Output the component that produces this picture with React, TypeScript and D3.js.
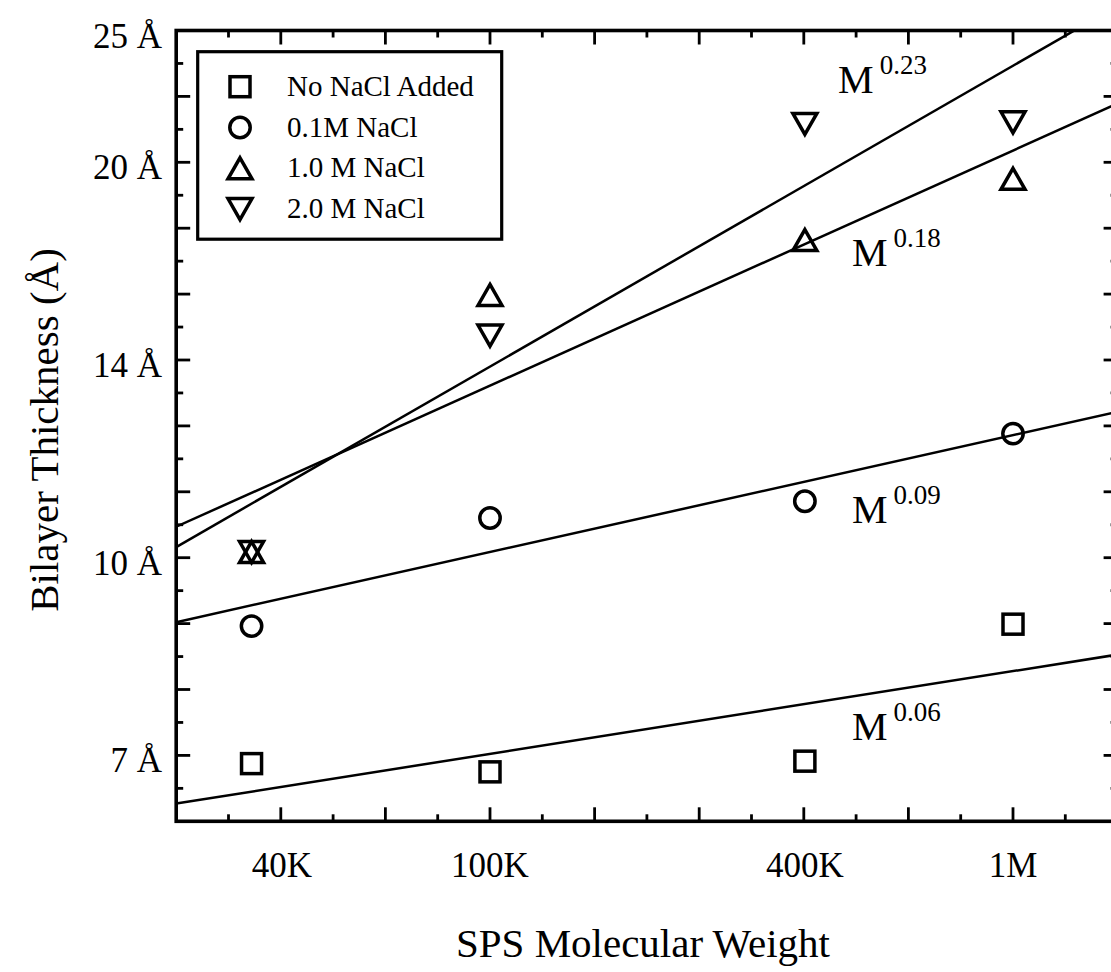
import React from "react";
import * as d3 from "d3";

// ---- data ----
const molecularWeights = [35000, 100000, 400000, 1000000];
const seriesNames = ["No NaCl Added", "0.1M NaCl", "1.0 M NaCl", "2.0 M NaCl"];
const seriesShapes = ["square", "circle", "triangleUp", "triangleDown"];
const noNaCl = [6.97, 6.87, 7.0, 8.9];
const nacl01 = [8.87, 10.72, 11.04, 12.43];
const nacl10 = [10.1, 15.85, 17.45, 19.43];
const nacl20 = [10.1, 14.76, 21.39, 21.45];
const seriesValues = [noNaCl, nacl01, nacl10, nacl20];

// power-law fits: thickness = fitAt100K * (M / 1e5) ^ exponent
const fitExponents = [0.063, 0.089, 0.179, 0.229];
const fitAt100K = [7.09, 10.1, 13.52, 13.98];
const fitLabels = ["0.06", "0.09", "0.18", "0.23"];
const fitLabelM = [492000, 492000, 492000, 463000];
const fitLabelValue = [7.263, 10.63, 16.68, 22.58];

const xTickLabels = [
  { v: 40000, t: "40K" },
  { v: 100000, t: "100K" },
  { v: 400000, t: "400K" },
  { v: 1000000, t: "1M" },
];
const yTickLabels = [
  { k: -6, t: "7 Å" },
  { k: 0, t: "10 Å" },
  { k: 6, t: "14 Å" },
  { k: 12, t: "20 Å" },
  { k: 16, t: "25 Å" },
];
const xTitle = "SPS Molecular Weight";
const yTitle = "Bilayer Thickness (Å)";

const FONT = "Liberation Serif, Times New Roman, Times, serif";

function Marker({ shape, cx, cy }: { shape: string; cx: number; cy: number }) {
  const sw = 3.5;
  if (shape === "square") {
    const s = 20;
    return <rect x={cx - s / 2} y={cy - s / 2} width={s} height={s} fill="none" stroke="#000" strokeWidth={sw} />;
  }
  if (shape === "circle") {
    return <circle cx={cx} cy={cy} r={10.2} fill="none" stroke="#000" strokeWidth={sw} />;
  }
  const w = 24;
  const h = 21;
  const pts =
    shape === "triangleUp"
      ? [[cx, cy - h / 2], [cx + w / 2, cy + h / 2], [cx - w / 2, cy + h / 2]]
      : [[cx, cy + h / 2], [cx + w / 2, cy - h / 2], [cx - w / 2, cy - h / 2]];
  return (
    <polygon
      points={pts.map((p) => p.join(",")).join(" ")}
      fill="none"
      stroke="#000"
      strokeWidth={sw}
      strokeLinejoin="miter"
    />
  );
}

export default function App() {
  const W = 1111;
  const H = 972;
  const left = 176.2;
  const right = 1117.6;
  const top = 30.5;
  const bottom = 821.3;

  const x = d3.scaleLog().domain([Math.pow(10, 4.4), Math.pow(10, 6.2)]).range([left, right]);
  const yk = (k: number) => 10 * Math.pow(2, k / 12);
  const y = d3.scaleLog().base(2).domain([yk(-8), yk(16)]).range([bottom, top]);

  // x ticks every 0.1 decade; major at even tenths
  const xTicks = d3.range(45, 62).map((i) => ({ v: Math.pow(10, i / 10), major: i % 2 === 0 }));
  // y ticks every 1/12 octave; long at even k
  const yTicks = d3.range(-7, 16).map((k) => ({ v: yk(k), major: k % 2 === 0 }));

  const fitPath = (i: number) => {
    const ms = [x.domain()[0], x.domain()[1]];
    const gen = d3
      .line<number>()
      .x((m) => x(m))
      .y((m) => y(fitAt100K[i] * Math.pow(m / 1e5, fitExponents[i])));
    return gen(ms) || "";
  };

  const majorLen = 14;
  const minorLen = 7;

  const legendX = 197.7;
  const legendY = 51.7;
  const legendW = 304;
  const legendH = 187.5;
  const rowY = (i: number) => 86.7 + i * 40.8;

  const txt = { fontFamily: FONT };

  return (
    <svg
      width={W}
      height={H}
      style={{ position: "absolute", left: 0, top: 0, background: "#fff", fontFamily: FONT }}
    >
      <rect x={0} y={0} width={W} height={H} fill="#fff" />
      <defs>
        <clipPath id="plotClip">
          <rect x={left} y={top} width={right - left} height={bottom - top} />
        </clipPath>
      </defs>

      {/* fit lines */}
      <g clipPath="url(#plotClip)">
        {fitExponents.map((_, i) => (
          <path key={i} d={fitPath(i)} fill="none" stroke="#000" strokeWidth={2.5} />
        ))}
      </g>

      {/* ticks */}
      <g stroke="#000" strokeWidth={2.8}>
        {xTicks.map((t, i) => {
          const px = x(t.v);
          const len = t.major ? majorLen : minorLen;
          return (
            <g key={"xt" + i}>
              <line x1={px} x2={px} y1={bottom} y2={bottom - len} />
              <line x1={px} x2={px} y1={top} y2={top + len} />
            </g>
          );
        })}
        {yTicks.map((t, i) => {
          const py = y(t.v);
          const len = t.major ? majorLen : minorLen;
          return (
            <g key={"yt" + i}>
              <line x1={left} x2={left + len} y1={py} y2={py} />
              <line x1={right} x2={right - len} y1={py} y2={py} />
            </g>
          );
        })}
      </g>

      {/* frame */}
      <rect
        x={left}
        y={top}
        width={right - left}
        height={bottom - top}
        fill="none"
        stroke="#000"
        strokeWidth={3.6}
      />

      {/* data points */}
      {seriesValues.map((vals, si) =>
        vals.map((v, j) => (
          <Marker key={si + "-" + j} shape={seriesShapes[si]} cx={x(molecularWeights[j])} cy={y(v)} />
        ))
      )}

      {/* fit labels */}
      {fitLabels.map((lab, i) => {
        const px = x(fitLabelM[i]);
        const py = y(fitLabelValue[i]);
        return (
          <text key={"fl" + i} x={px} y={py} fontSize={40} fill="#000" style={txt}>
            M
            <tspan dx={6} dy={-19} fontSize={27}>
              {lab}
            </tspan>
          </text>
        );
      })}

      {/* legend */}
      <rect x={legendX} y={legendY} width={legendW} height={legendH} fill="#fff" stroke="#000" strokeWidth={3.2} />
      {seriesNames.map((name, i) => (
        <g key={"lg" + i}>
          <Marker shape={seriesShapes[i]} cx={240} cy={rowY(i)} />
          <text x={287} y={rowY(i) + 9} fontSize={29} fill="#000" style={txt}>
            {name}
          </text>
        </g>
      ))}

      {/* tick labels */}
      {xTickLabels.map((t, i) => (
        <text key={"xl" + i} x={x(t.v)} y={877} fontSize={35} textAnchor="middle" fill="#000" style={txt}>
          {t.t}
        </text>
      ))}
      {yTickLabels.map((t, i) => (
        <text
          key={"yl" + i}
          x={162}
          y={y(yk(t.k)) + 17}
          fontSize={35}
          textAnchor="end"
          fill="#000"
          style={txt}
        >
          {t.t}
        </text>
      ))}

      {/* axis titles */}
      <text x={643} y={957} fontSize={41} textAnchor="middle" fill="#000" style={txt}>
        {xTitle}
      </text>
      <text
        transform="translate(58,430) rotate(-90)"
        fontSize={41}
        textAnchor="middle"
        fill="#000"
        style={txt}
      >
        {yTitle}
      </text>
    </svg>
  );
}
